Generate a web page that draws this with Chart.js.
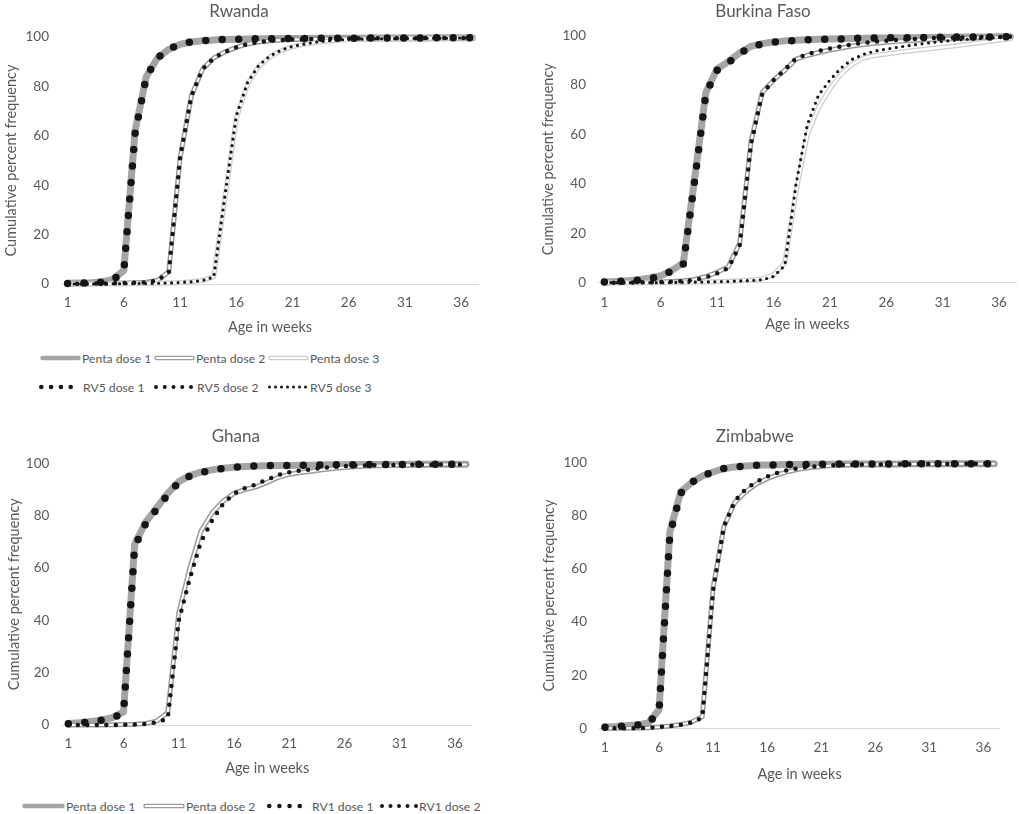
<!DOCTYPE html>
<html>
<head>
<meta charset="utf-8">
<script src="https://cdn.jsdelivr.net/npm/chart.js@4.4.0/dist/chart.umd.min.js"></script>
<style>
  html, body { margin: 0; padding: 0; background: #fff; width: 1023px; height: 814px; overflow: hidden; position: relative; }
  canvas.panel { position: absolute; }
  .leg { position: absolute; height: 18px; display: flex; align-items: center; white-space: nowrap;
         font-family: Lato, "Noto Sans", sans-serif; font-size: 12.2px; color: #595959; }
  .leg canvas { display: block; }
</style>
</head>
<body>
<canvas class="panel" id="rwanda" width="504" height="340" style="left:0;top:0"></canvas>
<canvas class="panel" id="burkina" width="640" height="340" style="left:510px;top:0"></canvas>
<canvas class="panel" id="ghana" width="518" height="360" style="left:0;top:420px"></canvas>
<canvas class="panel" id="zimbabwe" width="604" height="364" style="left:510px;top:420px"></canvas>
<div id="legends"></div>

<script>
// weeks of age, 1..37
const weekLabels = ['1','2','3','4','5','6','7','8','9','10','11','12','13','14','15','16','17','18','19',
  '20','21','22','23','24','25','26','27','28','29','30','31','32','33','34','35','36','37'];

// Rwanda
const rwPenta1 = [0.3,0.4,0.5,0.8,1.8,5.5,62,84,91.5,95, 97,98,98.5,98.8,99,99.1,99.2,99.3,99.3,99.4, 99.4,99.4,99.5,99.5,99.5,99.5,99.5,99.6,99.6,99.6, 99.6,99.6,99.6,99.7,99.7,99.7,99.7];
const rwPenta2 = [0,0.1,0.1,0.2,0.3,0.4,0.5,0.7,1.5,5, 51,76,87,91.5,94,95.8,97.2,98,98.5,98.8, 99,99.1,99.2,99.3,99.3,99.4,99.4,99.4,99.5,99.5, 99.5,99.5,99.6,99.6,99.6,99.6,99.6];
const rwPenta3 = [0,0,0,0,0.1,0.1,0.2,0.2,0.3,0.4, 0.6,0.9,1.5,3,35,67,81,88,92,94.5, 96,97,97.8,98.3,98.7,99,99.1,99.2,99.3,99.3, 99.4,99.4,99.5,99.5,99.5,99.6,99.6];
const rwRv1 = [0.2,0.3,0.5,0.7,1.6,5.2,61,84,91.5,95.2, 97,98,98.5,98.8,99,99.1,99.2,99.3,99.3,99.4, 99.4,99.4,99.5,99.5,99.5,99.5,99.5,99.6,99.6,99.6, 99.6,99.6,99.6,99.7,99.7,99.7,99.7];
const rwRv2 = [0,0.1,0.1,0.2,0.3,0.4,0.5,0.7,1.4,4.8, 51,76,87,91.5,94,95.8,97.2,98,98.5,98.8, 99,99.1,99.2,99.3,99.3,99.4,99.4,99.4,99.5,99.5, 99.5,99.5,99.6,99.6,99.6,99.6,99.6];
const rwRv3 = [0,0,0,0,0.1,0.1,0.2,0.2,0.3,0.4, 0.6,0.9,1.4,2.8,36,68,81.5,88.5,92.3,94.7, 96.2,97.1,97.9,98.4,98.8,99,99.1,99.2,99.3,99.3, 99.4,99.4,99.5,99.5,99.5,99.6,99.6];

// Burkina Faso
const bfPenta1 = [0.3,0.5,0.8,1.2,1.8,2.8,5,8,42,77, 86.5,89.5,93,95.7,96.8,97.5,97.9,98.2,98.4,98.6, 98.7,98.8,98.9,99,99.1,99.1,99.2,99.2,99.3,99.3, 99.4,99.4,99.5,99.5,99.5,99.6,99.6];
const bfPenta2 = [0,0,0.1,0.1,0.2,0.3,0.5,0.8,1.3,2.5, 4.2,6.5,16,57,77,82,86,90.5,92,93.2, 94.2,95,95.8,96.4,96.9,97.3,97.7,98,98.3,98.5, 98.7,98.9,99.1,99.2,99.3,99.4,99.5];
const bfPenta3 = [0,0,0,0,0,0,0.1,0.1,0.2,0.3, 0.4,0.6,0.8,1.1,1.6,3.2,8,37,60,71, 78.5,84.5,88.5,91,92,92.6,93.2,93.8,94.3,94.8, 95.3,95.8,96.4,97,97.6,98.2,98.8];
const bfRv1 = [0.3,0.4,0.7,1,1.6,2.6,4.8,7.5,41,76.5, 86,89,92.8,95.5,96.7,97.4,97.8,98.1,98.3,98.5, 98.6,98.7,98.9,99,99.1,99.1,99.2,99.2,99.3,99.3, 99.4,99.4,99.5,99.5,99.5,99.6,99.6];
const bfRv2 = [0,0,0.1,0.1,0.2,0.3,0.4,0.7,1.1,2.2, 3.8,6,15,56,76.5,82,86.3,90.8,92.5,93.8, 94.8,95.7,96.5,97.1,97.6,98,98.3,98.6,98.8,99, 99.1,99.2,99.3,99.4,99.5,99.5,99.6];
const bfRv3 = [0,0,0,0,0,0,0.1,0.1,0.2,0.3, 0.4,0.5,0.7,0.9,1.2,2.5,7,40,64,76, 82,87,90.5,92.5,93.8,94.6,95.3,96,96.6,97.2, 97.7,98.1,98.5,98.8,99.1,99.3,99.5];

// Ghana
const ghPenta1 = [0.6,0.9,1.3,1.9,2.8,5,69,77.5,83,88.5, 93,95.3,96.6,97.5,98.1,98.5,98.8,99,99.1,99.2, 99.2,99.3,99.3,99.4,99.4,99.4,99.5,99.5,99.5,99.5, 99.5,99.6,99.6,99.6,99.6,99.6,99.6];
const ghPenta2 = [0,0,0,0,0.1,0.2,0.3,0.6,1.5,4.8, 43,60,74,81,85.5,88.5,90,91,92.7,94.6, 95.8,96.5,97,97.5,98,98.4,98.7,99,99.1,99.2, 99.3,99.3,99.4,99.4,99.5,99.5,99.5];
const ghRv1 = [0.5,0.8,1.2,1.8,2.6,4.8,68,77,82.5,88, 92.8,95.2,96.5,97.4,98,98.5,98.8,99,99.1,99.2, 99.2,99.3,99.3,99.4,99.4,99.4,99.5,99.5,99.5,99.5, 99.5,99.6,99.6,99.6,99.6,99.6,99.6];
const ghRv2 = [0,0,0,0,0,0.1,0.2,0.4,1,2.5, 40,56,70,78,84.5,88.5,90.5,92,93.8,95.5, 96.6,97.2,97.7,98.2,98.6,98.9,99.1,99.2,99.3,99.3, 99.4,99.4,99.4,99.5,99.5,99.5,99.5];

// Zimbabwe
const zwPenta1 = [0.5,0.7,1,1.3,2,7,74,89,92.5,95, 96.5,97.8,98.4,98.8,99,99.1,99.2,99.3,99.3,99.4, 99.4,99.4,99.5,99.5,99.5,99.5,99.5,99.5,99.6,99.6, 99.6,99.6,99.6,99.6,99.6,99.6,99.6];
const zwPenta2 = [0,0,0,0.1,0.2,0.5,0.9,1.4,2.3,4.4, 53,76,85,89,92,94,95.5,96.7,97.6,98.2, 98.6,98.9,99.1,99.2,99.3,99.3,99.4,99.4,99.4,99.5, 99.5,99.5,99.5,99.6,99.6,99.6,99.6];
const zwRv1 = [0.4,0.6,0.9,1.2,1.8,6.5,73,88.5,92.5,95, 96.5,97.8,98.4,98.8,99,99.1,99.2,99.3,99.3,99.4, 99.4,99.4,99.5,99.5,99.5,99.5,99.5,99.5,99.6,99.6, 99.6,99.6,99.6,99.6,99.6,99.6,99.6];
const zwRv2 = [0,0,0,0.1,0.2,0.5,0.8,1.3,2.2,4, 52,76,85.5,90,92.8,94.8,96.2,97.3,98,98.5, 98.8,99,99.1,99.2,99.3,99.3,99.4,99.4,99.4,99.5, 99.5,99.5,99.5,99.6,99.6,99.6,99.6];

const textColor = '#595959';
const fontFamily = 'Lato, "Noto Sans", sans-serif';
Chart.defaults.font.family = fontFamily;
Chart.defaults.color = textColor;

// solid lines may have two strokes (outline + white core) to get Excel's double line
const lineStyles = {
  penta1: { strokes: [{ color: '#a5a5a5', width: 7 }] },
  penta2: { strokes: [{ color: '#9b9b9b', width: 5 }, { color: '#ffffff', width: 2 }] },
  penta3: { strokes: [{ color: '#cdcdcd', width: 5 }, { color: '#ffffff', width: 2.4 }] },
  dots1: { color: '#161616', width: 7.5, gap: 16.5 },
  dots2: { color: '#161616', width: 4.5, gap: 9.5 },
  dots3: { color: '#161616', width: 3.2, gap: 6.5 }
};

function buildDatasets(series) {
  const out = [];
  series.forEach(s => {
    const st = lineStyles[s.style];
    if (st.strokes) {
      st.strokes.forEach(k => out.push({
        label: s.label, data: s.data, borderColor: k.color, borderWidth: k.width,
        borderCapStyle: 'round'
      }));
    } else {
      out.push({
        label: s.label, data: s.data, borderColor: st.color, borderWidth: st.width,
        borderDash: [0, st.gap], borderCapStyle: 'round'
      });
    }
  });
  // first pushed is drawn first (lowest layer)
  out.forEach((d, i) => {
    d.order = out.length - i;
    d.pointRadius = 0;
    d.pointHoverRadius = 0;
    d.tension = 0;
    d.fill = false;
    d.clip = false;
    d.borderJoinStyle = 'round';
  });
  return out;
}

function drawPanel(id, title, series, g) {
  new Chart(document.getElementById(id), {
    type: 'line',
    data: { labels: weekLabels, datasets: buildDatasets(series) },
    options: {
      responsive: false,
      animation: false,
      events: [],
      layout: { padding: { left: 0, top: 0, bottom: 0, right: g.right } },
      plugins: {
        legend: { display: false },
        tooltip: { enabled: false },
        title: {
          display: true, text: title, color: textColor,
          font: { size: 17, weight: 'normal' },
          padding: { top: g.titleTop, bottom: g.titleBottom }
        }
      },
      scales: {
        x: {
          type: 'category',
          offset: true,
          grid: { display: false, drawTicks: false },
          border: { display: true, color: '#d9d9d9', width: 1 },
          ticks: {
            autoSkip: false, maxRotation: 0, minRotation: 0,
            padding: g.xTickPad, color: textColor, font: { size: 13.5 },
            callback: (v, i) => (i % 5 === 0 ? weekLabels[i] : '')
          },
          title: {
            display: true, text: 'Age in weeks', color: textColor,
            font: { size: 14.5 }, padding: { top: 0, bottom: g.xTitlePad }
          },
          afterFit: s => { s.height = g.xHeight; }
        },
        y: {
          min: 0, max: 100,
          grid: { display: false, drawTicks: false },
          border: { display: false },
          ticks: { stepSize: 20, padding: g.yTickPad, color: textColor, font: { size: 13.5 } },
          title: {
            display: true, text: 'Cumulative percent frequency', color: textColor,
            font: { size: 14.5 }, padding: { top: g.yTitlePad, bottom: 0 }
          },
          afterFit: s => { s.width = g.yWidth; }
        }
      }
    }
  });
}

drawPanel('rwanda', 'Rwanda', [
  { label: 'Penta dose 1', data: rwPenta1, style: 'penta1' },
  { label: 'Penta dose 2', data: rwPenta2, style: 'penta2' },
  { label: 'Penta dose 3', data: rwPenta3, style: 'penta3' },
  { label: 'RV5 dose 1', data: rwRv1, style: 'dots1' },
  { label: 'RV5 dose 2', data: rwRv2, style: 'dots2' },
  { label: 'RV5 dose 3', data: rwRv3, style: 'dots3' }
], { right: 26, titleTop: 1, titleBottom: 15.6, xHeight: 56, xTickPad: 11, xTitlePad: 4, yWidth: 62, yTickPad: 13, yTitlePad: 2.6 });

drawPanel('burkina', 'Burkina Faso', [
  { label: 'Penta dose 1', data: bfPenta1, style: 'penta1' },
  { label: 'Penta dose 2', data: bfPenta2, style: 'penta2' },
  { label: 'Penta dose 3', data: bfPenta3, style: 'penta3' },
  { label: 'RV5 dose 1', data: bfRv1, style: 'dots1' },
  { label: 'RV5 dose 2', data: bfRv2, style: 'dots2' },
  { label: 'RV5 dose 3', data: bfRv3, style: 'dots3' }
], { right: 134, titleTop: 1, titleBottom: 14.3, xHeight: 57.3, xTickPad: 11.5, xTitlePad: 6.5, yWidth: 88.7, yTickPad: 12.7, yTitlePad: 29.6 });

drawPanel('ghana', 'Ghana', [
  { label: 'Penta dose 1', data: ghPenta1, style: 'penta1' },
  { label: 'Penta dose 2', data: ghPenta2, style: 'penta2' },
  { label: 'RV1 dose 1', data: ghRv1, style: 'dots1' },
  { label: 'RV1 dose 2', data: ghRv2, style: 'dots2' }
], { right: 46.4, titleTop: 6, titleBottom: 16.9, xHeight: 55, xTickPad: 11, xTitlePad: 3, yWidth: 62.8, yTickPad: 13.5, yTitlePad: 5.6 });

drawPanel('zimbabwe', 'Zimbabwe', [
  { label: 'Penta dose 1', data: zwPenta1, style: 'penta1' },
  { label: 'Penta dose 2', data: zwPenta2, style: 'penta2' },
  { label: 'RV1 dose 1', data: zwRv1, style: 'dots1' },
  { label: 'RV1 dose 2', data: zwRv2, style: 'dots2' }
], { right: 114.4, titleTop: 6, titleBottom: 16.3, xHeight: 55.7, xTickPad: 11.5, xTitlePad: 1.2, yWidth: 89.6, yTickPad: 12.6, yTitlePad: 30.6 });

// legends (HTML, swatches drawn in small canvases)
const legendDots = { dots1: { n: 4, d: 4.6 }, dots2: { n: 5, d: 4 }, dots3: { n: 7, d: 3 } };
const legendLines = { penta1: [4.5], penta2: [4.5, 1.8], penta3: [4.5, 1.8] };

const legendItems = [
  { label: 'Penta dose 1', style: 'penta1', x: 40, y: 358, sw: 41, gap: 1 },
  { label: 'Penta dose 2', style: 'penta2', x: 154, y: 358, sw: 41, gap: 1 },
  { label: 'Penta dose 3', style: 'penta3', x: 268, y: 358, sw: 41, gap: 1 },
  { label: 'RV5 dose 1', style: 'dots1', x: 39, y: 387, sw: 34, gap: 10 },
  { label: 'RV5 dose 2', style: 'dots2', x: 154, y: 387, sw: 39, gap: 4 },
  { label: 'RV5 dose 3', style: 'dots3', x: 268, y: 387, sw: 39, gap: 3 },
  { label: 'Penta dose 1', style: 'penta1', x: 22, y: 806, sw: 43, gap: 1 },
  { label: 'Penta dose 2', style: 'penta2', x: 143, y: 806, sw: 42, gap: 1 },
  { label: 'RV1 dose 1', style: 'dots1', x: 267, y: 806, sw: 35, gap: 10 },
  { label: 'RV1 dose 2', style: 'dots2', x: 380, y: 806, sw: 38, gap: 1 }
];

const legendRoot = document.getElementById('legends');
legendItems.forEach(it => {
  const div = document.createElement('div');
  div.className = 'leg';
  div.style.left = it.x + 'px';
  div.style.top = (it.y - 9) + 'px';
  const c = document.createElement('canvas');
  c.width = it.sw; c.height = 10;
  const ctx = c.getContext('2d');
  if (legendDots[it.style]) {
    const { n, d } = legendDots[it.style];
    const step = (it.sw - d) / (n - 1);
    ctx.fillStyle = lineStyles[it.style].color;
    for (let k = 0; k < n; k++) {
      ctx.beginPath();
      ctx.arc(d / 2 + k * step, 5, d / 2, 0, Math.PI * 2);
      ctx.fill();
    }
  } else {
    const widths = legendLines[it.style];
    const strokes = lineStyles[it.style].strokes;
    ctx.lineCap = 'round';
    widths.forEach((w, k) => {
      ctx.strokeStyle = strokes[k].color;
      ctx.lineWidth = w;
      ctx.beginPath();
      ctx.moveTo(2.5, 5);
      ctx.lineTo(it.sw - 2.5, 5);
      ctx.stroke();
    });
  }
  const span = document.createElement('span');
  span.textContent = it.label;
  span.style.marginLeft = it.gap + 'px';
  div.appendChild(c);
  div.appendChild(span);
  legendRoot.appendChild(div);
});
</script>
</body>
</html>
